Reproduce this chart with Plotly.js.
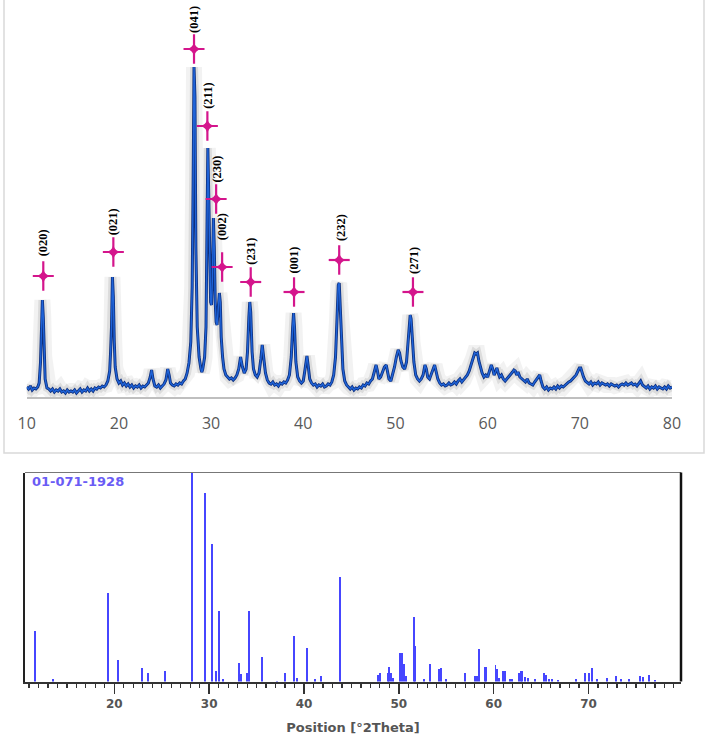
<!DOCTYPE html>
<html>
<head>
<meta charset="utf-8">
<script src="https://cdn.plot.ly/plotly-3.0.1.min.js"></script>
<style>html,body{margin:0;padding:0;background:#fff;}#chart{width:707px;height:740px;}</style>
</head>
<body>
<div id="chart"></div>
<script>
const xrdX = [10.0,10.2,10.4,10.6,10.8,11.0,11.2,11.35,11.5,11.6,11.7,11.8,11.9,12.0,12.2,12.4,12.6,12.8,13.0,13.2,13.4,13.6,13.8,14.0,14.2,14.4,14.6,14.8,15.0,15.2,15.4,15.6,15.8,16.0,16.2,16.4,16.6,16.8,17.0,17.2,17.4,17.6,17.8,18.0,18.2,18.4,18.6,18.8,19.0,19.1,19.2,19.3,19.4,19.5,19.6,19.8,20.0,20.2,20.4,20.6,20.8,21.0,21.2,21.4,21.6,21.8,22.0,22.2,22.4,22.6,22.8,23.0,23.2,23.4,23.55,23.7,23.9,24.1,24.3,24.5,24.7,24.9,25.1,25.3,25.45,25.6,25.8,26.0,26.2,26.4,26.6,26.8,27.0,27.2,27.4,27.6,27.8,27.95,28.05,28.15,28.25,28.35,28.5,28.7,28.9,29.0,29.1,29.3,29.45,29.55,29.65,29.75,29.85,29.95,30.05,30.15,30.25,30.35,30.45,30.55,30.65,30.75,30.9,31.0,31.1,31.25,31.4,31.6,31.8,32.0,32.2,32.4,32.6,32.8,33.0,33.2,33.4,33.6,33.8,33.95,34.1,34.2,34.3,34.45,34.6,34.8,35.0,35.2,35.4,35.55,35.7,35.9,36.1,36.3,36.5,36.7,36.9,37.1,37.3,37.5,37.7,37.9,38.1,38.3,38.5,38.7,38.85,38.95,39.05,39.2,39.4,39.6,39.8,40.0,40.15,40.3,40.4,40.55,40.7,40.9,41.1,41.3,41.5,41.7,41.9,42.1,42.3,42.5,42.7,42.9,43.1,43.3,43.5,43.65,43.8,43.9,44.0,44.15,44.3,44.5,44.7,44.9,45.1,45.3,45.5,45.7,45.9,46.1,46.3,46.5,46.7,46.9,47.1,47.3,47.5,47.7,47.9,48.05,48.2,48.4,48.6,48.8,49.0,49.15,49.3,49.5,49.7,49.9,50.1,50.3,50.45,50.6,50.8,51.0,51.2,51.35,51.5,51.6,51.7,51.85,52.0,52.2,52.4,52.6,52.8,53.0,53.2,53.35,53.5,53.7,53.9,54.1,54.25,54.4,54.6,54.8,55.0,55.2,55.4,55.6,55.8,56.0,56.2,56.4,56.6,56.8,57.0,57.2,57.4,57.6,57.8,58.0,58.2,58.4,58.6,58.75,58.9,59.05,59.2,59.4,59.6,59.8,60.0,60.2,60.4,60.55,60.7,60.85,61.0,61.15,61.3,61.5,61.7,61.9,62.1,62.3,62.5,62.7,62.85,63.0,63.15,63.3,63.5,63.7,63.9,64.1,64.3,64.5,64.7,64.9,65.1,65.3,65.5,65.65,65.8,66.0,66.2,66.4,66.6,66.8,67.0,67.2,67.4,67.6,67.8,68.0,68.2,68.4,68.6,68.8,69.0,69.2,69.4,69.6,69.8,69.95,70.1,70.25,70.4,70.6,70.8,71.0,71.2,71.4,71.6,71.8,72.0,72.2,72.4,72.6,72.8,73.0,73.2,73.4,73.6,73.8,74.0,74.2,74.4,74.6,74.8,75.0,75.2,75.4,75.6,75.8,76.0,76.2,76.4,76.6,76.8,77.0,77.2,77.4,77.6,77.8,78.0,78.2,78.4,78.6,78.8,79.0,79.2,79.4,79.6,79.8,80.0];
const xrdY = [10,8,11,7,9,8,10,14,35,60,97,80,40,18,9,8,6,8,5,7,6,8,5,6,4,7,5,6,5,7,4,6,8,5,7,6,9,6,8,6,9,8,10,9,11,10,12,16,26,45,70,120,100,55,30,18,14,16,12,14,11,13,10,12,9,11,10,12,9,11,10,12,14,20,27,18,11,10,12,9,11,13,17,28,22,14,12,11,13,12,14,13,16,18,24,34,55,110,210,330,300,150,70,40,28,25,28,40,70,150,249,200,120,95,92,120,179,150,95,75,72,85,104,95,60,40,28,22,20,18,19,17,19,22,28,40,30,24,28,45,80,95,85,45,28,22,20,24,38,52,40,24,17,14,13,15,12,13,11,14,13,15,14,17,22,40,70,84,70,35,20,16,14,16,25,38,41,30,18,14,12,13,10,12,11,13,10,11,13,12,15,22,40,75,112,114,95,55,28,16,12,10,8,10,7,9,8,10,9,12,11,14,13,16,18,25,32,26,18,20,25,30,32,26,18,16,22,30,40,47,44,36,30,28,35,55,75,82,78,55,35,22,18,16,18,22,32,28,20,18,24,30,32,26,18,14,12,13,11,12,14,12,13,15,13,16,18,15,17,20,22,26,32,38,44,43,44,36,30,24,20,22,20,26,32,28,22,25,29,24,20,22,18,16,18,20,22,25,27,26,22,25,20,18,16,15,18,14,13,12,15,18,20,22,16,10,8,10,7,9,8,10,8,11,9,11,10,12,13,15,16,18,20,22,26,29,29,24,20,16,14,13,15,12,14,13,15,12,14,13,12,13,11,13,12,11,12,10,12,13,12,14,12,13,14,12,13,11,14,16,12,10,9,11,8,10,9,11,8,10,9,8,10,8,11,9,10];

// ---- Indexed peaks ----
const peakLabels = ["(020)","(021)","(041)","(211)","(230)","(002)","(231)","(001)","(232)","(271)"];
const starX = [11.8,19.4,28.15,29.6,30.55,31.2,34.3,39.0,43.9,51.9];
const starY = [121,145,348,271,198,130,115,105,137,105];
const labelX = [11.8,19.4,28.15,29.65,30.6,31.2,34.3,38.95,44.1,52.0];
const labelY = [154,175,377,301,228,170,146,137,169,137];

// ---- Reference pattern 01-071-1928 (stick positions, relative intensity %) ----
const refX = [11.67,13.5,19.3,20.42,22.95,23.52,25.3,28.2,29.6,30.3,30.73,31.0,31.43,33.19,33.33,33.96,34.2,35.58,37.13,37.97,38.96,39.24,40.3,41.14,41.84,43.78,47.85,48.03,48.84,49.0,49.19,49.43,50.14,50.35,50.56,50.8,51.58,51.69,52.6,53.3,54.25,54.43,55.02,57.02,58.05,58.23,58.5,59.07,59.18,60.19,60.34,60.6,60.97,61.14,61.74,61.98,62.62,62.87,63.0,63.25,63.57,64.38,65.33,65.47,65.78,66.14,66.73,68.7,69.58,70.1,70.36,70.92,71.94,72.92,73.45,74.22,75.45,75.74,76.33,76.96];
const refI = [24.1,1.1,42.5,10.3,6.5,4.0,5.2,100,90.3,65.9,5.2,33.7,1.0,9.0,3.8,4.0,33.7,11.7,0.4,4.0,21.6,1.9,15.9,1.1,2.4,50,3.2,4.0,4.0,6.8,4.3,1.6,13.5,13.5,8.2,2.4,30.9,16.8,1.1,8.5,6.2,6.4,1.3,4.0,2.4,2.4,15.4,6.8,6.8,7.9,5.9,1.6,4.8,4.8,1.3,1.1,4.0,4.8,4.9,2.1,1.6,1.1,4.3,3.2,1.3,1.1,0.8,1.1,4.0,4.0,6.4,1.1,1.9,2.4,1.1,1.1,2.7,2.1,3.0,0.8];

const topTicks = [10,20,30,40,50,60,70,80];
const bottomTicks = [20,30,40,50,60,70];
const refCode = "01-071-1928";
const bottomTitle = "Position [°2Theta]";

const starColor = '#d4158c';
const traces = [
  {x: xrdX, y: xrdY, type:'scatter', mode:'lines', xaxis:'x', yaxis:'y', hoverinfo:'skip',
   line:{color:'rgba(0,0,0,0.05)', width:16}, showlegend:false},
  {x: xrdX, y: xrdY, type:'scatter', mode:'lines', xaxis:'x', yaxis:'y', hoverinfo:'skip',
   line:{color:'rgba(0,0,0,0.09)', width:8}, showlegend:false},
  {x: xrdX, y: xrdY, type:'scatter', mode:'lines', xaxis:'x', yaxis:'y',
   line:{color:'#0d2f7e', width:3}, showlegend:false},
  {x: xrdX, y: xrdY, type:'scatter', mode:'lines', xaxis:'x', yaxis:'y',
   line:{color:'#1f63d8', width:1.4}, showlegend:false},
  // four-point stars: vertical arm, horizontal arm, and centre
  {x: starX, y: starY, type:'scatter', mode:'markers', xaxis:'x', yaxis:'y',
   marker:{symbol:'line-ns', size:21, color:starColor, line:{width:2.2, color:starColor}}, showlegend:false},
  {x: starX, y: starY, type:'scatter', mode:'markers', xaxis:'x', yaxis:'y',
   marker:{symbol:'line-ew', size:15, color:starColor, line:{width:2.2, color:starColor}}, showlegend:false},
  {x: starX, y: starY, type:'scatter', mode:'markers', xaxis:'x', yaxis:'y',
   marker:{symbol:'star-diamond', size:10, color:starColor, line:{width:0}}, showlegend:false},
  {x: refX, y: refI, type:'bar', xaxis:'x2', yaxis:'y2', width:0.21,
   marker:{color:'#4646ff', line:{width:0}}, showlegend:false}
];

const annotations = peakLabels.map((t,i)=>({
  x: labelX[i], y: labelY[i], xref:'x', yref:'y', text:t, showarrow:false, textangle:-90,
  font:{family:'Liberation Serif, Times New Roman, serif', size:12.5, color:'#000', weight:'bold'}
}));
annotations.push({
  x: 30/707, y: (740-481)/740, xref:'paper', yref:'paper', xanchor:'left', yanchor:'middle',
  text: refCode, showarrow:false,
  font:{family:'DejaVu Sans, Verdana, sans-serif', size:13, color:'#6a5cf5', weight:'bold'}
});

const layout = {
  width:707, height:740, margin:{l:0,r:0,t:0,b:0},
  paper_bgcolor:'#ffffff', plot_bgcolor:'rgba(0,0,0,0)',
  bargap:0,
  xaxis:{domain:[26.7/707, 672/707], range:[10,80], tickvals:topTicks, showgrid:false, zeroline:false,
    showline:true, linecolor:'#bfbfbf', linewidth:1.5, ticks:'outside', ticklen:11, tickcolor:'rgba(0,0,0,0)',
    tickfont:{family:'Open Sans, sans-serif', size:16, color:'#595959'}, anchor:'y', fixedrange:true},
  yaxis:{domain:[(740-397)/740, (740-20)/740], range:[0,377], visible:false, anchor:'x', fixedrange:true},
  xaxis2:{domain:[25/707, 681/707], range:[10.58,79.75], tickvals:bottomTicks, showgrid:false, zeroline:false,
    showline:true, linecolor:'#333', linewidth:2, ticks:'outside', ticklen:10, tickwidth:1.5, tickcolor:'#333',
    minor:{dtick:1, tick0:0, ticks:'outside', ticklen:4, tickwidth:1.2, tickcolor:'#333', showgrid:false},
    tickfont:{family:'DejaVu Sans, Verdana, sans-serif', size:12, color:'#555', weight:'bold'},
    title:{text:bottomTitle, font:{family:'DejaVu Sans, Verdana, sans-serif', size:13, color:'#555', weight:'bold'}, standoff:13},
    anchor:'y2', fixedrange:true},
  yaxis2:{domain:[(740-681.5)/740, (740-472.5)/740], range:[0,100], showgrid:false, zeroline:false,
    showline:true, linecolor:'#222', linewidth:2, showticklabels:false, ticks:'', anchor:'x2', fixedrange:true},
  shapes:[
    {type:'rect', xref:'paper', yref:'paper', x0:4/707, x1:704/707, y0:(740-453)/740, y1:1.02,
     line:{color:'#d9d9d9', width:1.5}, fillcolor:'rgba(0,0,0,0)'},
    {type:'line', xref:'x2 domain', yref:'y2 domain', x0:0, x1:1, y0:1, y1:1, line:{color:'#777', width:1.2}},
    {type:'line', xref:'x2 domain', yref:'y2 domain', x0:1, x1:1, y0:0, y1:1, line:{color:'#111', width:2.5}}
  ],
  annotations: annotations
};

Plotly.newPlot('chart', traces, layout, {displayModeBar:false, staticPlot:true});
</script>
</body>
</html>
